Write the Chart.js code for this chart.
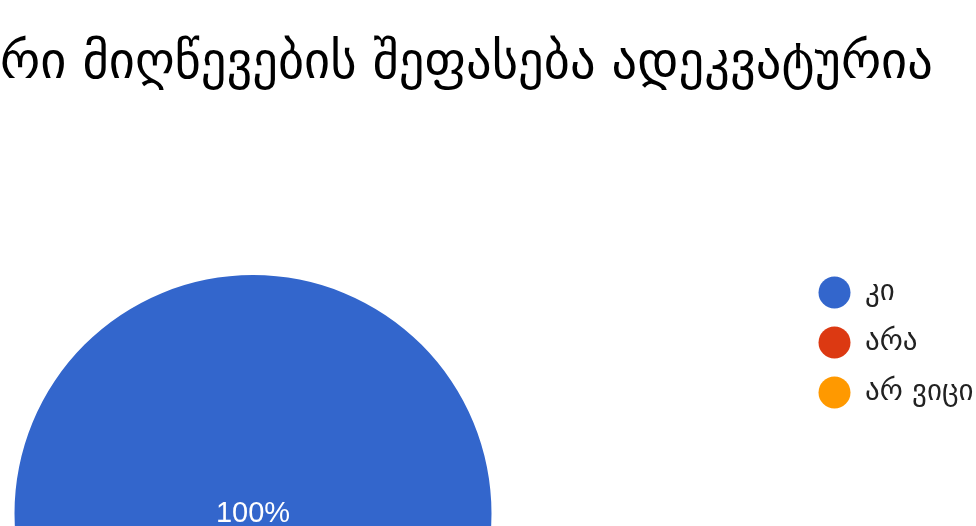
<!DOCTYPE html>
<html>
<head>
<meta charset="utf-8">
<script src="https://cdn.jsdelivr.net/npm/chart.js@4.4.1/dist/chart.umd.min.js"></script>
<style>
  html, body { margin: 0; padding: 0; background: #ffffff; overflow: hidden; }
  #wrap { position: relative; width: 976px; height: 770px; }
</style>
</head>
<body>
<div id="wrap"><canvas id="chart"></canvas></div>
<script>
// ---- data ----
const titleText = 'რი მიღწევების შეფასება ადეკვატურია';
const categories = ['კი', 'არა', 'არ ვიცი'];
const shares = [100, 0, 0];
const sliceColors = ['#3366cc', '#dc3912', '#ff9900'];

// ---- layout constants ----
const PIE_RADIUS = 238.5;
const LEGEND_BOX_WIDTH = 178.5; // legend box runs to the right edge; long labels are cut there
const LEGEND_GAP = 291.5;       // gap between the pie area and the legend

// spacer box between the pie area and the legend
const spacerPlugin = {
  id: 'legendSpacer',
  beforeInit(chart) {
    Chart.layouts.addBox(chart, {
      position: 'right', weight: 500, fullSize: false, options: { display: false },
      left: 0, top: 0, right: 0, bottom: 0, width: 0, height: 0,
      isHorizontal() { return false; },
      update(maxW, maxH) { this.width = LEGEND_GAP; this.height = maxH; },
      draw() {}
    });
  }
};

// percentage labels on slices
const pctLabelPlugin = {
  id: 'pctLabels',
  afterDatasetsDraw(chart) {
    const meta = chart.getDatasetMeta(0);
    const data = chart.data.datasets[0].data;
    const total = data.reduce((a, b) => a + b, 0);
    const ctx = chart.ctx;
    ctx.save();
    ctx.fillStyle = '#ffffff';
    ctx.font = '29px "Liberation Sans", Arial, sans-serif';
    ctx.textAlign = 'center';
    ctx.textBaseline = 'middle';
    meta.data.forEach((arc, i) => {
      const v = data[i];
      if (!v || !total) return;
      const pct = Math.round(v / total * 1000) / 10;
      const full = Math.abs(arc.endAngle - arc.startAngle) >= 2 * Math.PI - 1e-6;
      const p = full ? { x: arc.x, y: arc.y } : arc.tooltipPosition();
      ctx.fillText(pct + '%', p.x, p.y);
    });
    ctx.restore();
  }
};

new Chart(document.getElementById('chart'), {
  type: 'pie',
  data: {
    labels: categories,
    datasets: [{
      data: shares,
      backgroundColor: sliceColors,
      borderWidth: 0,
      hoverOffset: 0,
      radius: PIE_RADIUS
    }]
  },
  options: {
    responsive: true,
    maintainAspectRatio: false,
    animation: false,
    events: [],
    layout: { padding: 0 },
    plugins: {
      title: {
        display: true,
        text: titleText,
        align: 'start',
        color: '#000000',
        font: { family: '"DejaVu Sans", "Noto Sans", sans-serif', size: 50.5, weight: 'normal' },
        padding: { top: 34.2, bottom: 162.2 }
      },
      legend: {
        position: 'right',
        align: 'start',
        fullSize: false,
        maxWidth: LEGEND_BOX_WIDTH,
        labels: {
          usePointStyle: true,
          pointStyle: 'circle',
          pointStyleWidth: 32,
          boxHeight: 22.6,
          padding: 21,
          color: '#222222',
          font: { family: '"DejaVu Sans", "Noto Sans", sans-serif', size: 29 }
        }
      },
      tooltip: { enabled: false }
    }
  },
  plugins: [spacerPlugin, pctLabelPlugin]
});
</script>
</body>
</html>
